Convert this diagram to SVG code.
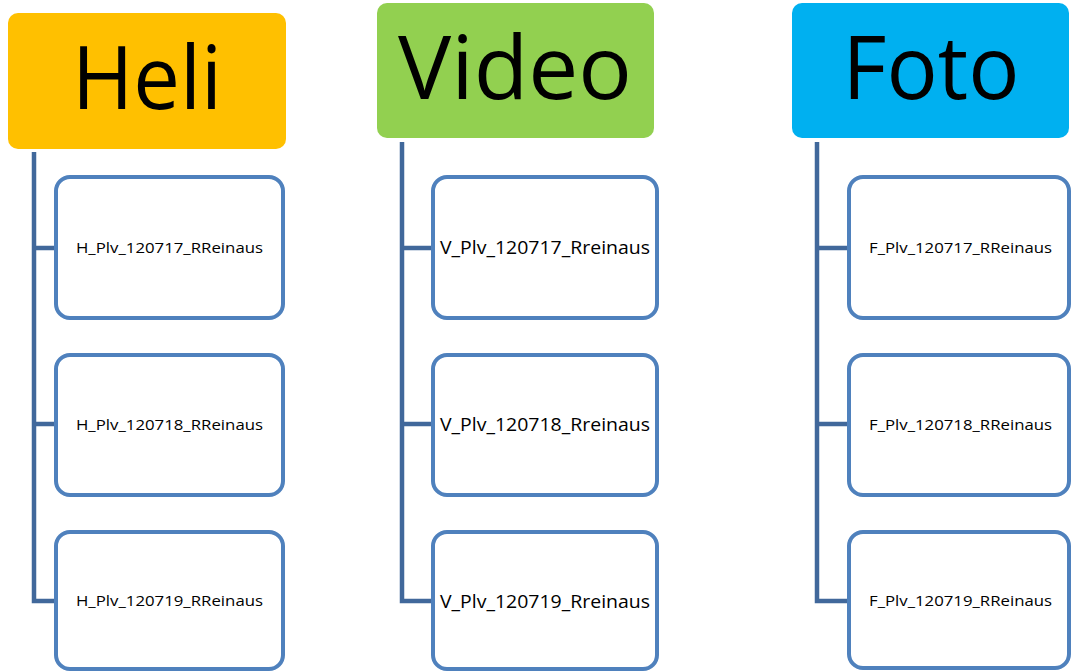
<svg xmlns="http://www.w3.org/2000/svg" width="1071" height="672" viewBox="0 0 1071 672">
<style>
.hdr{font-family:"Open Sans","Liberation Sans",sans-serif;font-size:88px;fill:#000;text-anchor:middle}
.box{fill:#fff;stroke:#4F81BD;stroke-width:4}
.lbl{font-family:"Open Sans","Liberation Sans",sans-serif;font-size:15px;fill:#000;text-anchor:middle}
.lblv{font-family:"Open Sans","Liberation Sans",sans-serif;font-size:19px;fill:#000;text-anchor:middle}
.con{fill:none;stroke:#41689B;stroke-width:4.5;stroke-linejoin:miter}
</style>
<rect width="1071" height="672" fill="#fff"/>
<g id="connectors">
<path class="con" d="M34 152 V601 H56 M34 248 H56 M34 424 H56"/>
<path class="con" d="M402 142 V601 H433 M402 248 H433 M402 424 H433"/>
<path class="con" d="M817 142 V601 H849 M817 248 H849 M817 424 H849"/>
</g>
<g id="heli">
<rect x="8" y="13" width="278" height="136" rx="10" fill="#FFC000"/>
<text class="hdr" x="147" y="109" textLength="150" lengthAdjust="spacingAndGlyphs">Heli</text>
</g>
<g id="video">
<rect x="377" y="3" width="277" height="135" rx="10" fill="#92D050"/>
<text class="hdr" x="515" y="99" font-size="93" textLength="234" lengthAdjust="spacingAndGlyphs">Video</text>
</g>
<g id="foto">
<rect x="792" y="3" width="277" height="135" rx="10" fill="#00B0F0"/>
<text class="hdr" x="931" y="99" font-size="93" textLength="177" lengthAdjust="spacingAndGlyphs">Foto</text>
</g>
<g id="h1"><rect class="box" x="56" y="177" width="227" height="141" rx="14"/><text class="lbl" x="169.5" y="253" textLength="187" lengthAdjust="spacingAndGlyphs">H_Plv_120717_RReinaus</text></g>
<g id="h2"><rect class="box" x="56" y="355" width="227" height="140" rx="14"/><text class="lbl" x="169.5" y="430" textLength="187" lengthAdjust="spacingAndGlyphs">H_Plv_120718_RReinaus</text></g>
<g id="h3"><rect class="box" x="56" y="532" width="227" height="137" rx="14"/><text class="lbl" x="169.5" y="606" textLength="187" lengthAdjust="spacingAndGlyphs">H_Plv_120719_RReinaus</text></g>
<g id="v1"><rect class="box" x="433" y="177" width="224" height="141" rx="14"/><text class="lblv" x="545" y="254" textLength="210" lengthAdjust="spacingAndGlyphs">V_Plv_120717_Rreinaus</text></g>
<g id="v2"><rect class="box" x="433" y="355" width="224" height="140" rx="14"/><text class="lblv" x="545" y="431" textLength="210" lengthAdjust="spacingAndGlyphs">V_Plv_120718_Rreinaus</text></g>
<g id="v3"><rect class="box" x="433" y="532" width="224" height="137" rx="14"/><text class="lblv" x="545" y="608" textLength="210" lengthAdjust="spacingAndGlyphs">V_Plv_120719_Rreinaus</text></g>
<g id="f1"><rect class="box" x="849" y="177" width="220" height="141" rx="14"/><text class="lbl" x="960.5" y="253" textLength="183" lengthAdjust="spacingAndGlyphs">F_Plv_120717_RReinaus</text></g>
<g id="f2"><rect class="box" x="849" y="355" width="220" height="140" rx="14"/><text class="lbl" x="960.5" y="430" textLength="183" lengthAdjust="spacingAndGlyphs">F_Plv_120718_RReinaus</text></g>
<g id="f3"><rect class="box" x="849" y="532" width="220" height="136" rx="14"/><text class="lbl" x="960.5" y="606" textLength="183" lengthAdjust="spacingAndGlyphs">F_Plv_120719_RReinaus</text></g>
</svg>
